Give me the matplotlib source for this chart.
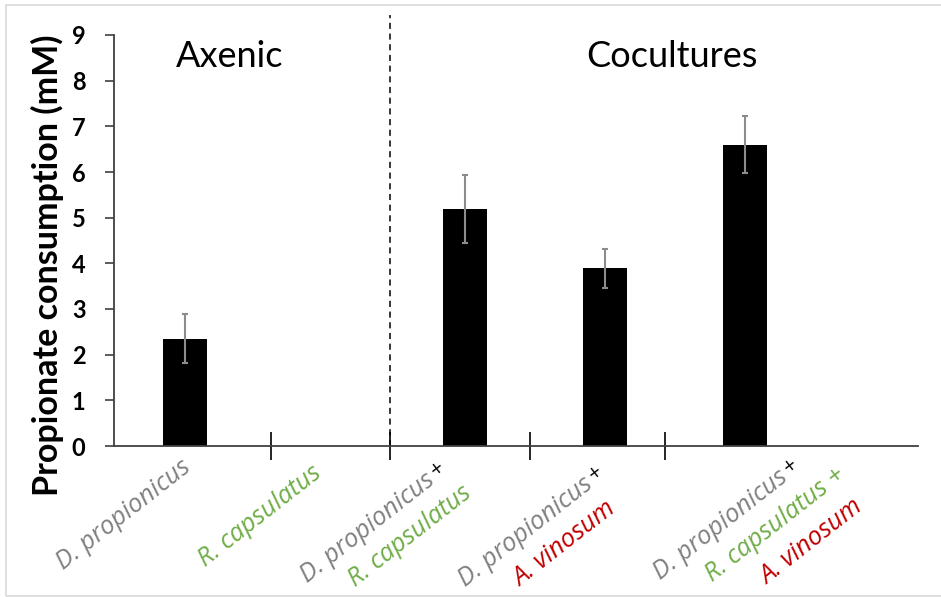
import math
import matplotlib
matplotlib.use("Agg")
import matplotlib.pyplot as plt
from matplotlib.patches import Rectangle
from matplotlib.transforms import ScaledTranslation
from matplotlib.font_manager import FontProperties

# data
categories = ["D. propionicus", "R. capsulatus",
              "D. propionicus + R. capsulatus",
              "D. propionicus + A. vinosum",
              "D. propionicus + R. capsulatus + A. vinosum"]
consumption = [2.35, 0.0, 5.19, 3.89, 6.60]
errors = [0.53, 0.0, 0.75, 0.42, 0.63]
group_titles = ["Axenic", "Cocultures"]
yticks = list(range(0, 10))

GRAY = "#808080"
GREEN = "#70AD47"
RED = "#C00000"

# each label line: (text, colour, black plus after it, (dx, dy) start in px)
label_lines = [
    [("D. propionicus", GRAY, False, (-122, 124))],
    [("R. capsulatus", GREEN, False, (-120, 121))],
    [("D. propionicus", GRAY, True, (-158, 137)),
     ("R. capsulatus", GREEN, False, (-110, 141))],
    [("D. propionicus", GRAY, True, (-140, 141)),
     ("A. vinosum", RED, False, (-85, 141))],
    [("D. propionicus", GRAY, True, (-85, 134)),
     ("R. capsulatus +", GREEN, False, (-33, 136)),
     ("A. vinosum", RED, False, (22, 139))],
]

W, H = 941, 597
fig = plt.figure(figsize=(W / 100, H / 100), dpi=100)
ax = fig.add_axes([114 / W, 1 - 446 / H, (918 - 114) / W, (446 - 35) / H])

x = list(range(len(categories)))
ax.bar(x, consumption, width=0.32, color="black", zorder=2)
ax.errorbar([xi for xi, c in zip(x, consumption) if c > 0],
            [c for c in consumption if c > 0],
            yerr=[e for e, c in zip(errors, consumption) if c > 0],
            fmt="none", ecolor="#8c8c8c", elinewidth=1.5, capsize=2.5,
            capthick=1.5, zorder=3)

ax.set_xlim(-0.507, 5.236)
ax.set_ylim(0, 9)
ax.set_yticks(yticks)
ax.set_yticklabels([str(t) for t in yticks], fontfamily="Lato",
                   fontweight="bold", fontsize=17)
ax.tick_params(axis="y", length=6.5, width=1.2, pad=14, color="#404040")

# separators between categories
seps = [0.614, 1.464, 2.464, 3.429]
ax.set_xticks(seps)
ax.set_xticklabels([])
ax.tick_params(axis="x", direction="inout", length=20, width=1.2,
               color="black")

for s in ["top", "right"]:
    ax.spines[s].set_visible(False)
ax.spines["left"].set_color("#404040")
ax.spines["left"].set_linewidth(1.3)
ax.spines["bottom"].set_color("#404040")
ax.spines["bottom"].set_linewidth(1.3)

# dashed divider axenic / cocultures
ax.plot([seps[1], seps[1]], [0, 9.44], color="black", lw=1.1,
        ls=(0, (4, 3)), clip_on=False, zorder=1)

ax.text(230 / W, 1 - 67 / H, group_titles[0], transform=fig.transFigure,
        ha="center", va="baseline", fontsize=26, fontfamily="Lato")
ax.text(672 / W, 1 - 67 / H, group_titles[1], transform=fig.transFigure,
        ha="center", va="baseline", fontsize=26, fontfamily="Lato")

fig.text(47 / W, 1 - 265 / H, "Propionate consumption (mM)", rotation=90,
         ha="center", va="center", fontsize=24.5, fontweight="bold",
         fontfamily="Lato")

# size the species labels so "D. propionicus" is ~163 px long like the original
renderer = fig.canvas.get_renderer()
probe = FontProperties(family="Open Sans", style="italic", size=20)
w20 = renderer.get_text_width_height_descent("D. propionicus", probe, False)[0]
LABEL_SIZE = 20 * 163 / w20
lab_prop = FontProperties(family="Open Sans", style="italic", size=LABEL_SIZE)

ROT = 38
c, s_ = math.cos(math.radians(ROT)), math.sin(math.radians(ROT))


def shifted(dx, dy):
    # dx, dy in pixels, dy measured downwards
    return ax.transData + ScaledTranslation(dx / 100, -dy / 100,
                                            fig.dpi_scale_trans)


for i, lines in enumerate(label_lines):
    for txt, col, plus, (dx, dy) in lines:
        ax.text(x[i], 0, txt, transform=shifted(dx, dy),
                rotation=ROT, rotation_mode="anchor", ha="left",
                va="baseline", color=col, fontproperties=lab_prop,
                clip_on=False)
        if plus:
            w = renderer.get_text_width_height_descent(txt, lab_prop, False)[0]
            along, up = w + 3, 4
            px = dx + along * c - up * s_
            py = dy - (along * s_ + up * c)
            ax.text(x[i], 0, "+", transform=shifted(px, py),
                    rotation=ROT, rotation_mode="anchor", ha="left",
                    va="baseline", color="black", fontsize=LABEL_SIZE * 0.85,
                    fontfamily="Open Sans", fontstyle="italic", clip_on=False)

# light frame around the picture
fig.patches.append(Rectangle((6 / W, 1 / H), 1.0, 1 - 6 / H,
                             transform=fig.transFigure, fill=False,
                             edgecolor="#d9d9d9", lw=1.2))

fig.savefig("out.png", dpi=100)
